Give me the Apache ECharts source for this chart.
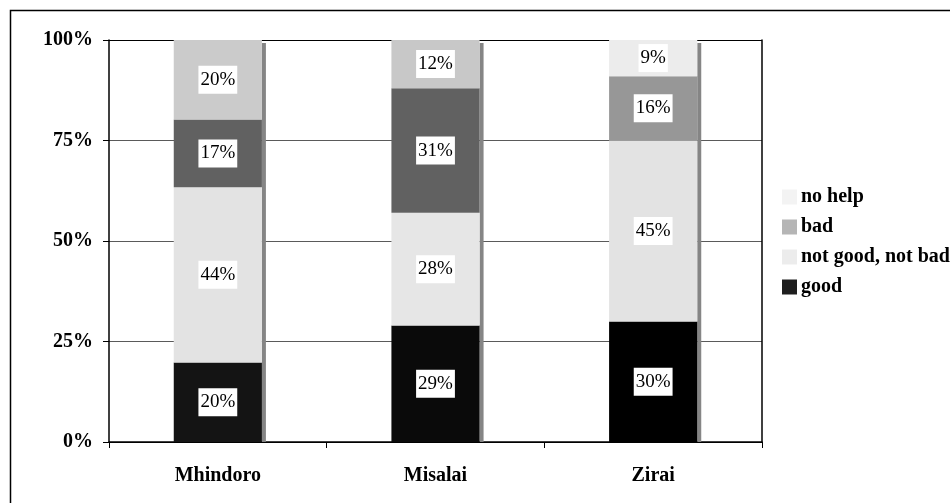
<!DOCTYPE html>
<html>
<head>
<meta charset="utf-8">
<script src="https://cdn.jsdelivr.net/npm/echarts@6/dist/echarts.min.js"></script>
<style>
html,body{margin:0;padding:0;background:#fff;}
#chart{width:950px;height:503px;}
</style>
</head>
<body>
<div id="chart"></div>
<script>
// ---- data ----
const categories = ['Mhindoro', 'Misalai', 'Zirai'];
const good = [20, 29, 30];
const notGoodNotBad = [44, 28, 45];
const bad = [17, 31, 16];
const noHelp = [20, 12, 9];
const yTicks = ['0%', '25%', '50%', '75%', '100%'];

// ---- styles ----
const FONT = '"Liberation Serif", "Times New Roman", serif';
const seriesDefs = [
  { name: 'good', values: good, legendColor: '#1e1e1e', barColors: ['#141414', '#0a0a0a', '#000000'] },
  { name: 'not good, not bad', values: notGoodNotBad, legendColor: '#ececec', barColors: ['#e3e3e3', '#e6e6e6', '#e3e3e3'] },
  { name: 'bad', values: bad, legendColor: '#b5b5b5', barColors: ['#616161', '#616161', '#979797'] },
  { name: 'no help', values: noHelp, legendColor: '#f3f3f3', barColors: ['#cbcbcb', '#c8c8c8', '#ececec'] }
];

const totals = categories.map((c, i) => seriesDefs.reduce((s, d) => s + d.values[i], 0));

const series = seriesDefs.map(d => ({
  name: d.name,
  type: 'bar',
  stack: 'total',
  barWidth: '40.5%',
  itemStyle: { color: d.legendColor },
  label: {
    show: true,
    position: 'inside',
    formatter: p => d.values[p.dataIndex] + '%',
    fontFamily: FONT,
    fontSize: 19,
    color: '#000',
    backgroundColor: '#fff',
    padding: [4, 2, 3, 2],
    lineHeight: 21
  },
  data: d.values.map((v, i) => ({
    value: v / totals[i] * 100,
    itemStyle: { color: d.barColors[i] }
  })),
  z: 3
}));

// bar shadow strip on the right of each stacked bar
series.push({
  name: 'shadow',
  type: 'custom',
  z: 2,
  silent: true,
  renderItem: function (params, api) {
    const idx = api.value(0);
    const top = api.coord([idx, api.value(1)]);
    const bottom = api.coord([idx, 0]);
    const band = api.size([1, 0])[0];
    const w = band * 0.405;
    return {
      type: 'rect',
      shape: { x: top[0] + w / 2, y: top[1] + 3, width: 4, height: bottom[1] - top[1] - 3 },
      style: { fill: '#858585' }
    };
  },
  data: categories.map((c, i) => [i, 100])
});

const chart = echarts.init(document.getElementById('chart'), null, { renderer: 'canvas' });
chart.setOption({
  animation: false,
  backgroundColor: '#fff',
  grid: { left: 109, top: 40, right: 188, bottom: 61, containLabel: false },
  legend: {
    orient: 'vertical',
    left: 782,
    top: 187,
    padding: 0,
    itemWidth: 15,
    itemHeight: 15,
    itemGap: 10,
    selectedMode: false,
    icon: 'rect',
    data: ['no help', 'bad', 'not good, not bad', 'good'],
    textStyle: { fontFamily: FONT, fontWeight: 'bold', fontSize: 20, color: '#000', padding: [0, 0, 0, -1] }
  },
  xAxis: {
    type: 'category',
    data: categories,
    axisLine: { lineStyle: { color: '#000', width: 1.5 } },
    axisTick: { show: true, inside: false, length: 6, lineStyle: { color: '#000' } },
    axisLabel: { fontFamily: FONT, fontWeight: 'bold', fontSize: 20, color: '#000', margin: 24 }
  },
  yAxis: [{
    type: 'value',
    min: 0,
    max: 100,
    interval: 25,
    axisLine: { show: true, lineStyle: { color: '#000', width: 1.5 } },
    axisTick: { show: true, inside: false, length: 6, lineStyle: { color: '#000' } },
    axisLabel: {
      fontFamily: FONT, fontWeight: 'bold', fontSize: 20, color: '#000', margin: 16,
      formatter: (v) => yTicks[Math.round(v / 25)]
    },
    splitLine: { show: true, lineStyle: { color: ['#000', '#5a5a5a', '#5a5a5a', '#5a5a5a', '#000'], width: 1.2 } }
  }, {
    type: 'value',
    position: 'right',
    min: 0,
    max: 100,
    interval: 25,
    axisLine: { show: true, lineStyle: { color: '#000', width: 1.5 } },
    axisTick: { show: false },
    axisLabel: { show: false },
    splitLine: { show: false }
  }],
  graphic: [{
    type: 'rect',
    left: 8,
    top: 8,
    shape: { width: 980, height: 560 },
    style: { fill: null, stroke: '#000', lineWidth: 1.5 },
    silent: true,
    z: 0
  }],
  series: series
});
</script>
</body>
</html>
